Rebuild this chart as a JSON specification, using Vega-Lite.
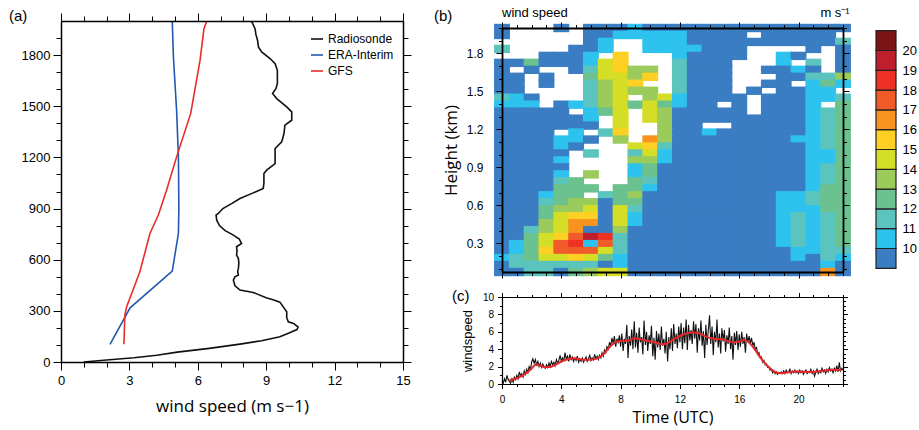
{
  "$schema": "https://vega.github.io/schema/vega-lite/v6.json",
  "background": "white",
  "padding": {"left": 9, "top": 6, "right": 0, "bottom": 4},
  "spacing": 33,
  "bounds": "flush",
  "config": {
    "view": {"stroke": null},
    "font": "Liberation Sans",
    "axis": {"domainColor": "#000", "tickColor": "#000", "labelColor": "#000", "titleColor": "#000", "tickWidth": 1, "labelFont": "Liberation Sans", "titleFont": "Open Sans", "titleFontWeight": "normal", "labelFlush": false, "labelOverlap": false, "grid": false}
  },
  "datasets": {
    "profiles": [
      {"src":"Radiosonde","ws":1.0,"z":0},{"src":"Radiosonde","ws":2.0,"z":12},{"src":"Radiosonde","ws":3.2,"z":25},{"src":"Radiosonde","ws":4.2,"z":40},{"src":"Radiosonde","ws":5.1,"z":58},{"src":"Radiosonde","ws":6.5,"z":80},{"src":"Radiosonde","ws":7.85,"z":105},{"src":"Radiosonde","ws":8.8,"z":125},{"src":"Radiosonde","ws":9.6,"z":148},{"src":"Radiosonde","ws":10.0,"z":170},{"src":"Radiosonde","ws":10.35,"z":190},{"src":"Radiosonde","ws":10.4,"z":205},{"src":"Radiosonde","ws":10.2,"z":226},{"src":"Radiosonde","ws":9.97,"z":236},{"src":"Radiosonde","ws":9.9,"z":260},{"src":"Radiosonde","ws":9.9,"z":295},{"src":"Radiosonde","ws":9.6,"z":351},{"src":"Radiosonde","ws":9.3,"z":365},{"src":"Radiosonde","ws":9.0,"z":377},{"src":"Radiosonde","ws":8.43,"z":408},{"src":"Radiosonde","ws":7.85,"z":422},{"src":"Radiosonde","ws":7.63,"z":447},{"src":"Radiosonde","ws":7.56,"z":480},{"src":"Radiosonde","ws":7.63,"z":500},{"src":"Radiosonde","ws":7.78,"z":510},{"src":"Radiosonde","ws":7.75,"z":530},{"src":"Radiosonde","ws":7.78,"z":549},{"src":"Radiosonde","ws":7.8,"z":580},{"src":"Radiosonde","ws":7.78,"z":608},{"src":"Radiosonde","ws":7.7,"z":627},{"src":"Radiosonde","ws":7.72,"z":650},{"src":"Radiosonde","ws":7.7,"z":676},{"src":"Radiosonde","ws":7.92,"z":695},{"src":"Radiosonde","ws":7.82,"z":721},{"src":"Radiosonde","ws":7.56,"z":744},{"src":"Radiosonde","ws":7.2,"z":770},{"src":"Radiosonde","ws":6.95,"z":800},{"src":"Radiosonde","ws":6.83,"z":832},{"src":"Radiosonde","ws":6.8,"z":861},{"src":"Radiosonde","ws":6.9,"z":871},{"src":"Radiosonde","ws":7.1,"z":900},{"src":"Radiosonde","ws":7.5,"z":930},{"src":"Radiosonde","ws":7.85,"z":959},{"src":"Radiosonde","ws":8.43,"z":992},{"src":"Radiosonde","ws":8.87,"z":1018},{"src":"Radiosonde","ws":8.9,"z":1050},{"src":"Radiosonde","ws":8.9,"z":1106},{"src":"Radiosonde","ws":9.02,"z":1125},{"src":"Radiosonde","ws":9.39,"z":1164},{"src":"Radiosonde","ws":9.39,"z":1200},{"src":"Radiosonde","ws":9.39,"z":1252},{"src":"Radiosonde","ws":9.68,"z":1291},{"src":"Radiosonde","ws":9.78,"z":1340},{"src":"Radiosonde","ws":9.82,"z":1389},{"src":"Radiosonde","ws":10.12,"z":1418},{"src":"Radiosonde","ws":10.12,"z":1467},{"src":"Radiosonde","ws":9.9,"z":1496},{"src":"Radiosonde","ws":9.46,"z":1545},{"src":"Radiosonde","ws":9.28,"z":1575},{"src":"Radiosonde","ws":9.43,"z":1604},{"src":"Radiosonde","ws":9.49,"z":1633},{"src":"Radiosonde","ws":9.49,"z":1680},{"src":"Radiosonde","ws":9.49,"z":1711},{"src":"Radiosonde","ws":9.39,"z":1750},{"src":"Radiosonde","ws":9.17,"z":1780},{"src":"Radiosonde","ws":8.8,"z":1819},{"src":"Radiosonde","ws":8.66,"z":1848},{"src":"Radiosonde","ws":8.62,"z":1887},{"src":"Radiosonde","ws":8.55,"z":1920},{"src":"Radiosonde","ws":8.51,"z":1955},{"src":"Radiosonde","ws":8.36,"z":1998},
      {"src":"ERA-Interim","ws":2.15,"z":104},{"src":"ERA-Interim","ws":3.03,"z":318},{"src":"ERA-Interim","ws":4.88,"z":533},{"src":"ERA-Interim","ws":5.15,"z":754},{"src":"ERA-Interim","ws":5.17,"z":902},{"src":"ERA-Interim","ws":5.15,"z":1203},{"src":"ERA-Interim","ws":5.07,"z":1477},{"src":"ERA-Interim","ws":4.93,"z":1790},{"src":"ERA-Interim","ws":4.88,"z":1999},
      {"src":"GFS","ws":2.76,"z":104},{"src":"GFS","ws":2.8,"z":275},{"src":"GFS","ws":2.88,"z":324},{"src":"GFS","ws":3.46,"z":529},{"src":"GFS","ws":3.9,"z":754},{"src":"GFS","ws":4.27,"z":862},{"src":"GFS","ws":4.63,"z":1008},{"src":"GFS","ws":5.07,"z":1203},{"src":"GFS","ws":5.69,"z":1458},{"src":"GFS","ws":6.1,"z":1770},{"src":"GFS","ws":6.27,"z":1955},{"src":"GFS","ws":6.39,"z":1999}
    ],
    "cells": [
      {"t":0,"h":2,"v":9},{"t":4,"h":2,"v":9},{"t":6,"h":2,"v":9},{"t":7,"h":2,"v":9},{"t":8,"h":2,"v":9},{"t":9,"h":2,"v":10.5},{"t":10,"h":2,"v":9},{"t":11,"h":2,"v":9},{"t":12,"h":2,"v":9},{"t":13,"h":2,"v":9},{"t":14,"h":2,"v":9},{"t":15,"h":2,"v":9},{"t":16,"h":2,"v":9},{"t":17,"h":2,"v":9},{"t":18,"h":2,"v":9},{"t":19,"h":2,"v":9},{"t":20,"h":2,"v":9},{"t":21,"h":2,"v":9},{"t":22,"h":2,"v":9},{"t":23,"h":2,"v":9},
      {"t":0,"h":1.945,"v":9},{"t":6,"h":1.945,"v":9},{"t":7,"h":1.945,"v":9},{"t":8,"h":1.945,"v":10.5},{"t":9,"h":1.945,"v":10.5},{"t":10,"h":1.945,"v":10.5},{"t":11,"h":1.945,"v":10.5},{"t":12,"h":1.945,"v":10.5},{"t":13,"h":1.945,"v":9},{"t":14,"h":1.945,"v":9},{"t":15,"h":1.945,"v":9},{"t":16,"h":1.945,"v":9},{"t":18,"h":1.945,"v":9},{"t":19,"h":1.945,"v":9},{"t":20,"h":1.945,"v":9},{"t":21,"h":1.945,"v":9},{"t":22,"h":1.945,"v":9},
      {"t":6,"h":1.89,"v":9},{"t":7,"h":1.89,"v":10.5},{"t":10,"h":1.89,"v":10.5},{"t":11,"h":1.89,"v":10.5},{"t":12,"h":1.89,"v":10.5},{"t":13,"h":1.89,"v":9},{"t":14,"h":1.89,"v":9},{"t":15,"h":1.89,"v":9},{"t":16,"h":1.89,"v":9},{"t":17,"h":1.89,"v":9},{"t":18,"h":1.89,"v":9},{"t":19,"h":1.89,"v":9},{"t":20,"h":1.89,"v":9},{"t":21,"h":1.89,"v":9},{"t":22,"h":1.89,"v":9},{"t":23,"h":1.89,"v":11.5},
      {"t":0,"h":1.835,"v":11.5},{"t":5,"h":1.835,"v":9},{"t":6,"h":1.835,"v":9},{"t":7,"h":1.835,"v":10.5},{"t":10,"h":1.835,"v":10.5},{"t":11,"h":1.835,"v":10.5},{"t":12,"h":1.835,"v":10.5},{"t":13,"h":1.835,"v":10.5},{"t":14,"h":1.835,"v":9},{"t":15,"h":1.835,"v":9},{"t":16,"h":1.835,"v":9},{"t":21,"h":1.835,"v":9},{"t":23,"h":1.835,"v":9},
      {"t":3,"h":1.78,"v":9},{"t":4,"h":1.78,"v":9},{"t":5,"h":1.78,"v":9},{"t":6,"h":1.78,"v":10.5},{"t":8,"h":1.78,"v":15.5},{"t":12,"h":1.78,"v":10.5},{"t":13,"h":1.78,"v":9},{"t":14,"h":1.78,"v":9},{"t":15,"h":1.78,"v":9},{"t":16,"h":1.78,"v":9},{"t":19,"h":1.78,"v":10.5},{"t":20,"h":1.78,"v":9},{"t":23,"h":1.78,"v":9},
      {"t":0,"h":1.725,"v":9},{"t":1,"h":1.725,"v":9},{"t":2,"h":1.725,"v":12.5},{"t":3,"h":1.725,"v":9},{"t":4,"h":1.725,"v":9},{"t":5,"h":1.725,"v":9},{"t":6,"h":1.725,"v":10.5},{"t":7,"h":1.725,"v":14.5},{"t":8,"h":1.725,"v":15.5},{"t":12,"h":1.725,"v":11.5},{"t":13,"h":1.725,"v":9},{"t":14,"h":1.725,"v":9},{"t":15,"h":1.725,"v":9},{"t":19,"h":1.725,"v":10.5},{"t":21,"h":1.725,"v":11.5},{"t":23,"h":1.725,"v":9},
      {"t":0,"h":1.67,"v":9},{"t":2,"h":1.67,"v":9},{"t":5,"h":1.67,"v":9},{"t":6,"h":1.67,"v":11.5},{"t":7,"h":1.67,"v":14.5},{"t":8,"h":1.67,"v":15.5},{"t":9,"h":1.67,"v":13.5},{"t":10,"h":1.67,"v":13.5},{"t":12,"h":1.67,"v":11.5},{"t":13,"h":1.67,"v":9},{"t":14,"h":1.67,"v":9},{"t":15,"h":1.67,"v":9},{"t":18,"h":1.67,"v":9},{"t":19,"h":1.67,"v":9},{"t":20,"h":1.67,"v":10.5},{"t":21,"h":1.67,"v":9},{"t":23,"h":1.67,"v":9},
      {"t":0,"h":1.615,"v":9},{"t":1,"h":1.615,"v":9},{"t":3,"h":1.615,"v":9},{"t":6,"h":1.615,"v":12.5},{"t":7,"h":1.615,"v":14.5},{"t":8,"h":1.615,"v":14.5},{"t":9,"h":1.615,"v":13.5},{"t":10,"h":1.615,"v":15.5},{"t":12,"h":1.615,"v":11.5},{"t":13,"h":1.615,"v":9},{"t":14,"h":1.615,"v":9},{"t":15,"h":1.615,"v":9},{"t":19,"h":1.615,"v":9},{"t":20,"h":1.615,"v":9},{"t":21,"h":1.615,"v":11.5},{"t":22,"h":1.615,"v":11.5},{"t":23,"h":1.615,"v":13.5},
      {"t":0,"h":1.56,"v":9},{"t":1,"h":1.56,"v":9},{"t":3,"h":1.56,"v":9},{"t":6,"h":1.56,"v":11.5},{"t":7,"h":1.56,"v":13.5},{"t":8,"h":1.56,"v":14.5},{"t":9,"h":1.56,"v":15.5},{"t":12,"h":1.56,"v":11.5},{"t":13,"h":1.56,"v":9},{"t":14,"h":1.56,"v":9},{"t":15,"h":1.56,"v":9},{"t":18,"h":1.56,"v":9},{"t":19,"h":1.56,"v":9},{"t":21,"h":1.56,"v":10.5},{"t":22,"h":1.56,"v":12.5},{"t":23,"h":1.56,"v":10.5},
      {"t":0,"h":1.505,"v":9},{"t":1,"h":1.505,"v":9},{"t":6,"h":1.505,"v":11.5},{"t":7,"h":1.505,"v":13.5},{"t":8,"h":1.505,"v":14.5},{"t":9,"h":1.505,"v":13.5},{"t":10,"h":1.505,"v":13.5},{"t":12,"h":1.505,"v":11.5},{"t":13,"h":1.505,"v":9},{"t":14,"h":1.505,"v":9},{"t":15,"h":1.505,"v":9},{"t":17,"h":1.505,"v":9},{"t":19,"h":1.505,"v":9},{"t":20,"h":1.505,"v":9},{"t":21,"h":1.505,"v":10.5},{"t":22,"h":1.505,"v":10.5},
      {"t":0,"h":1.45,"v":11.5},{"t":1,"h":1.45,"v":10.5},{"t":2,"h":1.45,"v":9},{"t":6,"h":1.45,"v":11.5},{"t":7,"h":1.45,"v":13.5},{"t":8,"h":1.45,"v":14.5},{"t":10,"h":1.45,"v":13.5},{"t":11,"h":1.45,"v":14.5},{"t":12,"h":1.45,"v":10.5},{"t":13,"h":1.45,"v":9},{"t":14,"h":1.45,"v":9},{"t":15,"h":1.45,"v":9},{"t":16,"h":1.45,"v":9},{"t":18,"h":1.45,"v":9},{"t":19,"h":1.45,"v":9},{"t":20,"h":1.45,"v":9},{"t":21,"h":1.45,"v":10.5},{"t":22,"h":1.45,"v":10.5},{"t":23,"h":1.45,"v":11.5},
      {"t":0,"h":1.395,"v":10.5},{"t":1,"h":1.395,"v":10.5},{"t":2,"h":1.395,"v":10.5},{"t":4,"h":1.395,"v":9},{"t":5,"h":1.395,"v":10.5},{"t":6,"h":1.395,"v":11.5},{"t":7,"h":1.395,"v":13.5},{"t":8,"h":1.395,"v":14.5},{"t":9,"h":1.395,"v":12.5},{"t":10,"h":1.395,"v":14.5},{"t":11,"h":1.395,"v":12.5},{"t":12,"h":1.395,"v":10.5},{"t":13,"h":1.395,"v":9},{"t":14,"h":1.395,"v":9},{"t":16,"h":1.395,"v":9},{"t":18,"h":1.395,"v":9},{"t":19,"h":1.395,"v":9},{"t":20,"h":1.395,"v":9},{"t":21,"h":1.395,"v":10.5},{"t":23,"h":1.395,"v":12.5},
      {"t":0,"h":1.34,"v":9},{"t":1,"h":1.34,"v":9},{"t":2,"h":1.34,"v":9},{"t":3,"h":1.34,"v":9},{"t":4,"h":1.34,"v":9},{"t":6,"h":1.34,"v":10.5},{"t":7,"h":1.34,"v":12.5},{"t":8,"h":1.34,"v":14.5},{"t":10,"h":1.34,"v":14.5},{"t":11,"h":1.34,"v":13.5},{"t":12,"h":1.34,"v":9},{"t":13,"h":1.34,"v":9},{"t":14,"h":1.34,"v":9},{"t":15,"h":1.34,"v":9},{"t":16,"h":1.34,"v":9},{"t":18,"h":1.34,"v":9},{"t":19,"h":1.34,"v":9},{"t":20,"h":1.34,"v":9},{"t":21,"h":1.34,"v":10.5},{"t":22,"h":1.34,"v":11.5},{"t":23,"h":1.34,"v":12.5},
      {"t":0,"h":1.285,"v":9},{"t":1,"h":1.285,"v":9},{"t":2,"h":1.285,"v":9},{"t":3,"h":1.285,"v":9},{"t":4,"h":1.285,"v":9},{"t":5,"h":1.285,"v":9},{"t":6,"h":1.285,"v":10.5},{"t":8,"h":1.285,"v":14.5},{"t":10,"h":1.285,"v":14.5},{"t":11,"h":1.285,"v":13.5},{"t":12,"h":1.285,"v":9},{"t":13,"h":1.285,"v":9},{"t":14,"h":1.285,"v":9},{"t":15,"h":1.285,"v":9},{"t":16,"h":1.285,"v":9},{"t":17,"h":1.285,"v":9},{"t":18,"h":1.285,"v":9},{"t":19,"h":1.285,"v":9},{"t":20,"h":1.285,"v":9},{"t":21,"h":1.285,"v":10.5},{"t":22,"h":1.285,"v":11.5},{"t":23,"h":1.285,"v":12.5},
      {"t":0,"h":1.23,"v":9},{"t":1,"h":1.23,"v":9},{"t":2,"h":1.23,"v":9},{"t":3,"h":1.23,"v":9},{"t":4,"h":1.23,"v":9},{"t":5,"h":1.23,"v":9},{"t":6,"h":1.23,"v":9},{"t":8,"h":1.23,"v":14.5},{"t":11,"h":1.23,"v":13.5},{"t":12,"h":1.23,"v":9},{"t":13,"h":1.23,"v":9},{"t":16,"h":1.23,"v":9},{"t":17,"h":1.23,"v":9},{"t":18,"h":1.23,"v":9},{"t":19,"h":1.23,"v":9},{"t":20,"h":1.23,"v":9},{"t":21,"h":1.23,"v":10.5},{"t":22,"h":1.23,"v":11.5},{"t":23,"h":1.23,"v":12.5},
      {"t":0,"h":1.175,"v":9},{"t":1,"h":1.175,"v":9},{"t":2,"h":1.175,"v":9},{"t":3,"h":1.175,"v":9},{"t":5,"h":1.175,"v":10.5},{"t":7,"h":1.175,"v":11.5},{"t":8,"h":1.175,"v":15.5},{"t":11,"h":1.175,"v":13.5},{"t":12,"h":1.175,"v":9},{"t":13,"h":1.175,"v":9},{"t":14,"h":1.175,"v":10.5},{"t":15,"h":1.175,"v":9},{"t":16,"h":1.175,"v":9},{"t":17,"h":1.175,"v":9},{"t":18,"h":1.175,"v":9},{"t":19,"h":1.175,"v":9},{"t":20,"h":1.175,"v":9},{"t":21,"h":1.175,"v":10.5},{"t":22,"h":1.175,"v":11.5},{"t":23,"h":1.175,"v":12.5},
      {"t":0,"h":1.12,"v":9},{"t":1,"h":1.12,"v":9},{"t":2,"h":1.12,"v":9},{"t":3,"h":1.12,"v":9},{"t":4,"h":1.12,"v":10.5},{"t":5,"h":1.12,"v":10.5},{"t":6,"h":1.12,"v":9},{"t":8,"h":1.12,"v":13.5},{"t":10,"h":1.12,"v":16.5},{"t":11,"h":1.12,"v":13.5},{"t":12,"h":1.12,"v":9},{"t":13,"h":1.12,"v":9},{"t":14,"h":1.12,"v":9},{"t":15,"h":1.12,"v":9},{"t":16,"h":1.12,"v":9},{"t":17,"h":1.12,"v":9},{"t":18,"h":1.12,"v":9},{"t":19,"h":1.12,"v":9},{"t":20,"h":1.12,"v":10.5},{"t":21,"h":1.12,"v":10.5},{"t":22,"h":1.12,"v":11.5},{"t":23,"h":1.12,"v":12.5},
      {"t":0,"h":1.065,"v":9},{"t":1,"h":1.065,"v":9},{"t":2,"h":1.065,"v":9},{"t":3,"h":1.065,"v":9},{"t":4,"h":1.065,"v":10.5},{"t":5,"h":1.065,"v":9},{"t":9,"h":1.065,"v":14.5},{"t":10,"h":1.065,"v":15.5},{"t":11,"h":1.065,"v":11.5},{"t":12,"h":1.065,"v":9},{"t":13,"h":1.065,"v":9},{"t":14,"h":1.065,"v":9},{"t":15,"h":1.065,"v":9},{"t":16,"h":1.065,"v":9},{"t":17,"h":1.065,"v":9},{"t":18,"h":1.065,"v":9},{"t":19,"h":1.065,"v":9},{"t":20,"h":1.065,"v":9},{"t":21,"h":1.065,"v":10.5},{"t":22,"h":1.065,"v":11.5},{"t":23,"h":1.065,"v":12.5},
      {"t":0,"h":1.01,"v":9},{"t":1,"h":1.01,"v":9},{"t":2,"h":1.01,"v":9},{"t":3,"h":1.01,"v":9},{"t":4,"h":1.01,"v":9},{"t":6,"h":1.01,"v":11.5},{"t":9,"h":1.01,"v":11.5},{"t":10,"h":1.01,"v":14.5},{"t":11,"h":1.01,"v":10.5},{"t":12,"h":1.01,"v":9},{"t":13,"h":1.01,"v":9},{"t":14,"h":1.01,"v":9},{"t":15,"h":1.01,"v":9},{"t":16,"h":1.01,"v":9},{"t":17,"h":1.01,"v":9},{"t":18,"h":1.01,"v":9},{"t":19,"h":1.01,"v":9},{"t":20,"h":1.01,"v":9},{"t":21,"h":1.01,"v":10.5},{"t":22,"h":1.01,"v":10.5},{"t":23,"h":1.01,"v":12.5},
      {"t":0,"h":0.955,"v":9},{"t":1,"h":0.955,"v":9},{"t":2,"h":0.955,"v":9},{"t":3,"h":0.955,"v":9},{"t":4,"h":0.955,"v":10.5},{"t":9,"h":0.955,"v":13.5},{"t":10,"h":0.955,"v":13.5},{"t":11,"h":0.955,"v":10.5},{"t":12,"h":0.955,"v":9},{"t":13,"h":0.955,"v":9},{"t":14,"h":0.955,"v":9},{"t":15,"h":0.955,"v":9},{"t":16,"h":0.955,"v":9},{"t":17,"h":0.955,"v":9},{"t":18,"h":0.955,"v":9},{"t":19,"h":0.955,"v":9},{"t":20,"h":0.955,"v":9},{"t":21,"h":0.955,"v":10.5},{"t":22,"h":0.955,"v":10.5},{"t":23,"h":0.955,"v":12.5},
      {"t":0,"h":0.9,"v":9},{"t":1,"h":0.9,"v":9},{"t":2,"h":0.9,"v":9},{"t":3,"h":0.9,"v":9},{"t":4,"h":0.9,"v":9},{"t":9,"h":0.9,"v":10.5},{"t":10,"h":0.9,"v":12.5},{"t":11,"h":0.9,"v":9},{"t":12,"h":0.9,"v":9},{"t":13,"h":0.9,"v":9},{"t":14,"h":0.9,"v":9},{"t":15,"h":0.9,"v":9},{"t":16,"h":0.9,"v":9},{"t":17,"h":0.9,"v":9},{"t":18,"h":0.9,"v":9},{"t":19,"h":0.9,"v":9},{"t":20,"h":0.9,"v":9},{"t":21,"h":0.9,"v":10.5},{"t":22,"h":0.9,"v":11.5},{"t":23,"h":0.9,"v":12.5},
      {"t":0,"h":0.845,"v":9},{"t":1,"h":0.845,"v":9},{"t":2,"h":0.845,"v":9},{"t":3,"h":0.845,"v":9},{"t":4,"h":0.845,"v":10.5},{"t":6,"h":0.845,"v":13.5},{"t":9,"h":0.845,"v":10.5},{"t":10,"h":0.845,"v":12.5},{"t":11,"h":0.845,"v":9},{"t":12,"h":0.845,"v":9},{"t":13,"h":0.845,"v":9},{"t":14,"h":0.845,"v":9},{"t":15,"h":0.845,"v":9},{"t":16,"h":0.845,"v":9},{"t":17,"h":0.845,"v":9},{"t":18,"h":0.845,"v":9},{"t":19,"h":0.845,"v":9},{"t":20,"h":0.845,"v":9},{"t":21,"h":0.845,"v":10.5},{"t":22,"h":0.845,"v":11.5},{"t":23,"h":0.845,"v":12.5},
      {"t":0,"h":0.79,"v":9},{"t":1,"h":0.79,"v":9},{"t":2,"h":0.79,"v":9},{"t":3,"h":0.79,"v":9},{"t":4,"h":0.79,"v":11.5},{"t":5,"h":0.79,"v":12.5},{"t":9,"h":0.79,"v":12.5},{"t":10,"h":0.79,"v":11.5},{"t":11,"h":0.79,"v":9},{"t":12,"h":0.79,"v":9},{"t":13,"h":0.79,"v":9},{"t":14,"h":0.79,"v":9},{"t":15,"h":0.79,"v":9},{"t":16,"h":0.79,"v":9},{"t":17,"h":0.79,"v":9},{"t":18,"h":0.79,"v":9},{"t":19,"h":0.79,"v":9},{"t":20,"h":0.79,"v":9},{"t":21,"h":0.79,"v":10.5},{"t":22,"h":0.79,"v":11.5},{"t":23,"h":0.79,"v":12.5},
      {"t":0,"h":0.735,"v":9},{"t":1,"h":0.735,"v":9},{"t":2,"h":0.735,"v":9},{"t":3,"h":0.735,"v":9},{"t":4,"h":0.735,"v":12.5},{"t":5,"h":0.735,"v":12.5},{"t":6,"h":0.735,"v":12.5},{"t":8,"h":0.735,"v":12.5},{"t":9,"h":0.735,"v":12.5},{"t":10,"h":0.735,"v":10.5},{"t":11,"h":0.735,"v":9},{"t":12,"h":0.735,"v":9},{"t":13,"h":0.735,"v":9},{"t":14,"h":0.735,"v":9},{"t":15,"h":0.735,"v":9},{"t":16,"h":0.735,"v":9},{"t":17,"h":0.735,"v":9},{"t":18,"h":0.735,"v":9},{"t":19,"h":0.735,"v":9},{"t":20,"h":0.735,"v":9},{"t":21,"h":0.735,"v":10.5},{"t":22,"h":0.735,"v":12.5},{"t":23,"h":0.735,"v":12.5},
      {"t":0,"h":0.68,"v":9},{"t":1,"h":0.68,"v":9},{"t":2,"h":0.68,"v":9},{"t":3,"h":0.68,"v":10.5},{"t":4,"h":0.68,"v":12.5},{"t":5,"h":0.68,"v":12.5},{"t":7,"h":0.68,"v":11.5},{"t":8,"h":0.68,"v":12.5},{"t":9,"h":0.68,"v":13.5},{"t":10,"h":0.68,"v":9},{"t":11,"h":0.68,"v":9},{"t":12,"h":0.68,"v":9},{"t":13,"h":0.68,"v":9},{"t":14,"h":0.68,"v":9},{"t":15,"h":0.68,"v":9},{"t":16,"h":0.68,"v":9},{"t":17,"h":0.68,"v":9},{"t":18,"h":0.68,"v":9},{"t":19,"h":0.68,"v":10.5},{"t":20,"h":0.68,"v":10.5},{"t":21,"h":0.68,"v":11.5},{"t":22,"h":0.68,"v":12.5},{"t":23,"h":0.68,"v":12.5},
      {"t":0,"h":0.625,"v":9},{"t":1,"h":0.625,"v":9},{"t":2,"h":0.625,"v":9},{"t":3,"h":0.625,"v":11.5},{"t":4,"h":0.625,"v":12.5},{"t":5,"h":0.625,"v":13.5},{"t":6,"h":0.625,"v":13.5},{"t":7,"h":0.625,"v":9},{"t":8,"h":0.625,"v":12.5},{"t":9,"h":0.625,"v":12.5},{"t":10,"h":0.625,"v":9},{"t":11,"h":0.625,"v":9},{"t":12,"h":0.625,"v":9},{"t":13,"h":0.625,"v":9},{"t":14,"h":0.625,"v":9},{"t":15,"h":0.625,"v":9},{"t":16,"h":0.625,"v":9},{"t":17,"h":0.625,"v":9},{"t":18,"h":0.625,"v":9},{"t":19,"h":0.625,"v":10.5},{"t":20,"h":0.625,"v":10.5},{"t":21,"h":0.625,"v":11.5},{"t":22,"h":0.625,"v":12.5},{"t":23,"h":0.625,"v":12.5},
      {"t":0,"h":0.57,"v":9},{"t":1,"h":0.57,"v":9},{"t":2,"h":0.57,"v":9},{"t":3,"h":0.57,"v":12.5},{"t":4,"h":0.57,"v":13.5},{"t":5,"h":0.57,"v":13.5},{"t":6,"h":0.57,"v":14.5},{"t":7,"h":0.57,"v":9},{"t":8,"h":0.57,"v":14.5},{"t":9,"h":0.57,"v":11.5},{"t":10,"h":0.57,"v":9},{"t":11,"h":0.57,"v":9},{"t":12,"h":0.57,"v":9},{"t":13,"h":0.57,"v":9},{"t":14,"h":0.57,"v":9},{"t":15,"h":0.57,"v":9},{"t":16,"h":0.57,"v":9},{"t":17,"h":0.57,"v":9},{"t":18,"h":0.57,"v":9},{"t":19,"h":0.57,"v":10.5},{"t":20,"h":0.57,"v":10.5},{"t":21,"h":0.57,"v":10.5},{"t":22,"h":0.57,"v":12.5},{"t":23,"h":0.57,"v":12.5},
      {"t":0,"h":0.515,"v":9},{"t":1,"h":0.515,"v":9},{"t":2,"h":0.515,"v":9},{"t":3,"h":0.515,"v":12.5},{"t":4,"h":0.515,"v":14.5},{"t":5,"h":0.515,"v":15.5},{"t":6,"h":0.515,"v":15.5},{"t":7,"h":0.515,"v":9},{"t":8,"h":0.515,"v":14.5},{"t":9,"h":0.515,"v":10.5},{"t":10,"h":0.515,"v":9},{"t":11,"h":0.515,"v":9},{"t":12,"h":0.515,"v":9},{"t":13,"h":0.515,"v":9},{"t":14,"h":0.515,"v":9},{"t":15,"h":0.515,"v":9},{"t":16,"h":0.515,"v":9},{"t":17,"h":0.515,"v":9},{"t":18,"h":0.515,"v":9},{"t":19,"h":0.515,"v":10.5},{"t":20,"h":0.515,"v":11.5},{"t":21,"h":0.515,"v":10.5},{"t":22,"h":0.515,"v":11.5},{"t":23,"h":0.515,"v":12.5},
      {"t":0,"h":0.46,"v":9},{"t":1,"h":0.46,"v":9},{"t":2,"h":0.46,"v":9},{"t":3,"h":0.46,"v":13.5},{"t":4,"h":0.46,"v":14.5},{"t":5,"h":0.46,"v":16.5},{"t":6,"h":0.46,"v":16.5},{"t":7,"h":0.46,"v":9},{"t":8,"h":0.46,"v":14.5},{"t":9,"h":0.46,"v":10.5},{"t":10,"h":0.46,"v":9},{"t":11,"h":0.46,"v":9},{"t":12,"h":0.46,"v":9},{"t":13,"h":0.46,"v":9},{"t":14,"h":0.46,"v":9},{"t":15,"h":0.46,"v":9},{"t":16,"h":0.46,"v":9},{"t":17,"h":0.46,"v":9},{"t":18,"h":0.46,"v":9},{"t":19,"h":0.46,"v":10.5},{"t":20,"h":0.46,"v":11.5},{"t":21,"h":0.46,"v":10.5},{"t":22,"h":0.46,"v":11.5},{"t":23,"h":0.46,"v":12.5},
      {"t":0,"h":0.405,"v":9},{"t":1,"h":0.405,"v":9},{"t":2,"h":0.405,"v":11.5},{"t":3,"h":0.405,"v":13.5},{"t":4,"h":0.405,"v":14.5},{"t":5,"h":0.405,"v":16.5},{"t":6,"h":0.405,"v":9},{"t":7,"h":0.405,"v":9},{"t":8,"h":0.405,"v":13.5},{"t":9,"h":0.405,"v":9},{"t":10,"h":0.405,"v":9},{"t":11,"h":0.405,"v":9},{"t":12,"h":0.405,"v":9},{"t":13,"h":0.405,"v":9},{"t":14,"h":0.405,"v":9},{"t":15,"h":0.405,"v":9},{"t":16,"h":0.405,"v":9},{"t":17,"h":0.405,"v":9},{"t":18,"h":0.405,"v":9},{"t":19,"h":0.405,"v":10.5},{"t":20,"h":0.405,"v":11.5},{"t":21,"h":0.405,"v":10.5},{"t":22,"h":0.405,"v":11.5},{"t":23,"h":0.405,"v":12.5},
      {"t":0,"h":0.35,"v":9},{"t":1,"h":0.35,"v":9},{"t":2,"h":0.35,"v":12.5},{"t":3,"h":0.35,"v":14.5},{"t":4,"h":0.35,"v":15.5},{"t":5,"h":0.35,"v":17.5},{"t":6,"h":0.35,"v":19.5},{"t":7,"h":0.35,"v":18.5},{"t":8,"h":0.35,"v":11.5},{"t":9,"h":0.35,"v":9},{"t":10,"h":0.35,"v":9},{"t":11,"h":0.35,"v":9},{"t":12,"h":0.35,"v":9},{"t":13,"h":0.35,"v":9},{"t":14,"h":0.35,"v":9},{"t":15,"h":0.35,"v":9},{"t":16,"h":0.35,"v":9},{"t":17,"h":0.35,"v":9},{"t":18,"h":0.35,"v":9},{"t":19,"h":0.35,"v":10.5},{"t":20,"h":0.35,"v":11.5},{"t":21,"h":0.35,"v":10.5},{"t":22,"h":0.35,"v":11.5},{"t":23,"h":0.35,"v":12.5},
      {"t":0,"h":0.295,"v":9},{"t":1,"h":0.295,"v":10.5},{"t":2,"h":0.295,"v":12.5},{"t":3,"h":0.295,"v":14.5},{"t":4,"h":0.295,"v":17.5},{"t":5,"h":0.295,"v":18.5},{"t":6,"h":0.295,"v":10.5},{"t":7,"h":0.295,"v":17.5},{"t":8,"h":0.295,"v":11.5},{"t":9,"h":0.295,"v":9},{"t":10,"h":0.295,"v":9},{"t":11,"h":0.295,"v":9},{"t":12,"h":0.295,"v":9},{"t":13,"h":0.295,"v":9},{"t":14,"h":0.295,"v":9},{"t":15,"h":0.295,"v":9},{"t":16,"h":0.295,"v":9},{"t":17,"h":0.295,"v":9},{"t":18,"h":0.295,"v":9},{"t":19,"h":0.295,"v":10.5},{"t":20,"h":0.295,"v":11.5},{"t":21,"h":0.295,"v":10.5},{"t":22,"h":0.295,"v":11.5},{"t":23,"h":0.295,"v":12.5},
      {"t":0,"h":0.24,"v":9},{"t":1,"h":0.24,"v":10.5},{"t":2,"h":0.24,"v":12.5},{"t":3,"h":0.24,"v":15.5},{"t":4,"h":0.24,"v":17.5},{"t":5,"h":0.24,"v":17.5},{"t":6,"h":0.24,"v":17.5},{"t":7,"h":0.24,"v":14.5},{"t":8,"h":0.24,"v":11.5},{"t":9,"h":0.24,"v":9},{"t":10,"h":0.24,"v":9},{"t":11,"h":0.24,"v":9},{"t":12,"h":0.24,"v":9},{"t":13,"h":0.24,"v":9},{"t":14,"h":0.24,"v":9},{"t":15,"h":0.24,"v":9},{"t":16,"h":0.24,"v":9},{"t":17,"h":0.24,"v":9},{"t":18,"h":0.24,"v":9},{"t":19,"h":0.24,"v":9},{"t":20,"h":0.24,"v":10.5},{"t":21,"h":0.24,"v":10.5},{"t":22,"h":0.24,"v":11.5},{"t":23,"h":0.24,"v":11.5},
      {"t":0,"h":0.185,"v":10.5},{"t":1,"h":0.185,"v":11.5},{"t":2,"h":0.185,"v":12.5},{"t":3,"h":0.185,"v":14.5},{"t":4,"h":0.185,"v":14.5},{"t":5,"h":0.185,"v":15.5},{"t":6,"h":0.185,"v":14.5},{"t":7,"h":0.185,"v":12.5},{"t":8,"h":0.185,"v":10.5},{"t":9,"h":0.185,"v":9},{"t":10,"h":0.185,"v":9},{"t":11,"h":0.185,"v":9},{"t":12,"h":0.185,"v":9},{"t":13,"h":0.185,"v":9},{"t":14,"h":0.185,"v":9},{"t":15,"h":0.185,"v":9},{"t":16,"h":0.185,"v":9},{"t":17,"h":0.185,"v":9},{"t":18,"h":0.185,"v":9},{"t":19,"h":0.185,"v":9},{"t":20,"h":0.185,"v":10.5},{"t":21,"h":0.185,"v":9},{"t":22,"h":0.185,"v":11.5},{"t":23,"h":0.185,"v":10.5},
      {"t":0,"h":0.13,"v":9},{"t":1,"h":0.13,"v":11.5},{"t":2,"h":0.13,"v":11.5},{"t":3,"h":0.13,"v":11.5},{"t":4,"h":0.13,"v":11.5},{"t":5,"h":0.13,"v":11.5},{"t":6,"h":0.13,"v":11.5},{"t":7,"h":0.13,"v":9},{"t":8,"h":0.13,"v":10.5},{"t":9,"h":0.13,"v":9},{"t":10,"h":0.13,"v":9},{"t":11,"h":0.13,"v":9},{"t":12,"h":0.13,"v":9},{"t":13,"h":0.13,"v":9},{"t":14,"h":0.13,"v":9},{"t":15,"h":0.13,"v":9},{"t":16,"h":0.13,"v":9},{"t":17,"h":0.13,"v":9},{"t":18,"h":0.13,"v":9},{"t":19,"h":0.13,"v":9},{"t":20,"h":0.13,"v":9},{"t":21,"h":0.13,"v":9},{"t":22,"h":0.13,"v":10.5},{"t":23,"h":0.13,"v":9},
      {"t":0,"h":0.075,"v":9},{"t":1,"h":0.075,"v":9},{"t":2,"h":0.075,"v":11.5},{"t":3,"h":0.075,"v":11.5},{"t":4,"h":0.075,"v":9},{"t":5,"h":0.075,"v":12.5},{"t":6,"h":0.075,"v":13.5},{"t":7,"h":0.075,"v":14.5},{"t":8,"h":0.075,"v":14.5},{"t":9,"h":0.075,"v":9},{"t":10,"h":0.075,"v":9},{"t":11,"h":0.075,"v":9},{"t":12,"h":0.075,"v":9},{"t":13,"h":0.075,"v":9},{"t":14,"h":0.075,"v":9},{"t":15,"h":0.075,"v":9},{"t":16,"h":0.075,"v":9},{"t":17,"h":0.075,"v":9},{"t":18,"h":0.075,"v":9},{"t":19,"h":0.075,"v":9},{"t":20,"h":0.075,"v":9},{"t":21,"h":0.075,"v":9},{"t":22,"h":0.075,"v":16.5},{"t":23,"h":0.075,"v":9}
    ],
    "obs": [
      {"t":0,"ws":0.3},{"t":0.08,"ws":0.1},{"t":0.17,"ws":0.6},{"t":0.25,"ws":0.2},{"t":0.33,"ws":1.0},{"t":0.42,"ws":0.5},{"t":0.5,"ws":0.3},{"t":0.58,"ws":0.1},{"t":0.67,"ws":0.6},{"t":0.75,"ws":0.2},{"t":0.83,"ws":0.8},{"t":0.92,"ws":0.5},
      {"t":1,"ws":1.0},{"t":1.08,"ws":0.6},{"t":1.17,"ws":1.4},{"t":1.25,"ws":0.9},{"t":1.33,"ws":1.2},{"t":1.42,"ws":0.8},{"t":1.5,"ws":1.5},{"t":1.58,"ws":1.1},{"t":1.67,"ws":1.7},{"t":1.75,"ws":1.3},{"t":1.83,"ws":2.0},{"t":1.92,"ws":1.7},
      {"t":2,"ws":2.5},{"t":2.08,"ws":2.9},{"t":2.17,"ws":2.4},{"t":2.25,"ws":2.8},{"t":2.33,"ws":2.2},{"t":2.42,"ws":2.6},{"t":2.5,"ws":2.0},{"t":2.58,"ws":2.4},{"t":2.67,"ws":1.9},{"t":2.75,"ws":2.3},{"t":2.83,"ws":2.0},{"t":2.92,"ws":1.8},
      {"t":3,"ws":2.2},{"t":3.08,"ws":1.9},{"t":3.17,"ws":2.4},{"t":3.25,"ws":2.0},{"t":3.33,"ws":2.6},{"t":3.42,"ws":2.2},{"t":3.5,"ws":2.5},{"t":3.58,"ws":2.1},{"t":3.67,"ws":2.8},{"t":3.75,"ws":2.4},{"t":3.83,"ws":2.7},{"t":3.92,"ws":3.3},
      {"t":4,"ws":2.6},{"t":4.08,"ws":3.0},{"t":4.17,"ws":2.7},{"t":4.25,"ws":3.6},{"t":4.33,"ws":2.9},{"t":4.42,"ws":3.2},{"t":4.5,"ws":2.6},{"t":4.58,"ws":3.4},{"t":4.67,"ws":2.8},{"t":4.75,"ws":3.1},{"t":4.83,"ws":2.6},{"t":4.92,"ws":3.0},
      {"t":5,"ws":2.7},{"t":5.08,"ws":3.2},{"t":5.17,"ws":2.5},{"t":5.25,"ws":2.9},{"t":5.33,"ws":2.6},{"t":5.42,"ws":3.0},{"t":5.5,"ws":2.5},{"t":5.58,"ws":2.8},{"t":5.67,"ws":3.1},{"t":5.75,"ws":2.6},{"t":5.83,"ws":2.9},{"t":5.92,"ws":3.3},
      {"t":6,"ws":2.7},{"t":6.08,"ws":3.0},{"t":6.17,"ws":2.8},{"t":6.25,"ws":3.4},{"t":6.33,"ws":2.9},{"t":6.42,"ws":3.2},{"t":6.5,"ws":2.8},{"t":6.58,"ws":3.3},{"t":6.67,"ws":3.0},{"t":6.75,"ws":3.6},{"t":6.83,"ws":3.2},{"t":6.92,"ws":3.9},
      {"t":7,"ws":3.6},{"t":7.08,"ws":4.3},{"t":7.17,"ws":4.0},{"t":7.25,"ws":4.8},{"t":7.33,"ws":4.4},{"t":7.42,"ws":5.3},{"t":7.5,"ws":4.6},{"t":7.58,"ws":5.5},{"t":7.67,"ws":4.3},{"t":7.75,"ws":5.2},{"t":7.83,"ws":4.8},{"t":7.92,"ws":5.6},
      {"t":8,"ws":4.3},{"t":8.08,"ws":5.8},{"t":8.17,"ws":3.8},{"t":8.25,"ws":5.2},{"t":8.33,"ws":4.6},{"t":8.42,"ws":6.8},{"t":8.5,"ws":3.0},{"t":8.58,"ws":5.5},{"t":8.67,"ws":4.4},{"t":8.75,"ws":6.3},{"t":8.83,"ws":4.0},{"t":8.92,"ws":7.2},
      {"t":9,"ws":4.2},{"t":9.08,"ws":5.9},{"t":9.17,"ws":3.6},{"t":9.25,"ws":6.5},{"t":9.33,"ws":4.8},{"t":9.42,"ws":5.4},{"t":9.5,"ws":3.4},{"t":9.58,"ws":7.3},{"t":9.67,"ws":4.5},{"t":9.75,"ws":6.0},{"t":9.83,"ws":3.8},{"t":9.92,"ws":5.6},
      {"t":10,"ws":4.6},{"t":10.08,"ws":6.7},{"t":10.17,"ws":3.2},{"t":10.25,"ws":5.3},{"t":10.33,"ws":2.8},{"t":10.42,"ws":6.1},{"t":10.5,"ws":4.2},{"t":10.58,"ws":5.8},{"t":10.67,"ws":3.9},{"t":10.75,"ws":6.6},{"t":10.83,"ws":4.4},{"t":10.92,"ws":5.2},
      {"t":11,"ws":3.5},{"t":11.08,"ws":6.0},{"t":11.17,"ws":2.6},{"t":11.25,"ws":5.4},{"t":11.33,"ws":4.0},{"t":11.42,"ws":6.4},{"t":11.5,"ws":3.8},{"t":11.58,"ws":6.9},{"t":11.67,"ws":4.6},{"t":11.75,"ws":5.8},{"t":11.83,"ws":4.1},{"t":11.92,"ws":6.6},
      {"t":12,"ws":4.8},{"t":12.08,"ws":7.0},{"t":12.17,"ws":4.0},{"t":12.25,"ws":6.5},{"t":12.33,"ws":4.7},{"t":12.42,"ws":7.4},{"t":12.5,"ws":3.9},{"t":12.58,"ws":6.8},{"t":12.67,"ws":5.0},{"t":12.75,"ws":6.2},{"t":12.83,"ws":4.6},{"t":12.92,"ws":7.2},
      {"t":13,"ws":5.2},{"t":13.08,"ws":6.9},{"t":13.17,"ws":3.6},{"t":13.25,"ws":6.4},{"t":13.33,"ws":5.0},{"t":13.42,"ws":7.3},{"t":13.5,"ws":4.4},{"t":13.58,"ws":6.1},{"t":13.67,"ws":3.0},{"t":13.75,"ws":6.8},{"t":13.83,"ws":4.5},{"t":13.92,"ws":6.3},
      {"t":14,"ws":7.9},{"t":14.08,"ws":4.6},{"t":14.17,"ws":6.6},{"t":14.25,"ws":3.3},{"t":14.33,"ws":6.0},{"t":14.42,"ws":4.8},{"t":14.5,"ws":7.4},{"t":14.58,"ws":4.2},{"t":14.67,"ws":5.8},{"t":14.75,"ws":3.5},{"t":14.83,"ws":6.4},{"t":14.92,"ws":4.9},
      {"t":15,"ws":6.2},{"t":15.08,"ws":3.7},{"t":15.17,"ws":5.6},{"t":15.25,"ws":4.6},{"t":15.33,"ws":6.5},{"t":15.42,"ws":4.0},{"t":15.5,"ws":5.5},{"t":15.58,"ws":2.8},{"t":15.67,"ws":5.9},{"t":15.75,"ws":4.5},{"t":15.83,"ws":6.1},{"t":15.92,"ws":3.9},
      {"t":16,"ws":5.7},{"t":16.08,"ws":4.3},{"t":16.17,"ws":6.0},{"t":16.25,"ws":4.6},{"t":16.33,"ws":5.4},{"t":16.42,"ws":3.6},{"t":16.5,"ws":5.8},{"t":16.58,"ws":4.8},{"t":16.67,"ws":5.5},{"t":16.75,"ws":4.6},{"t":16.83,"ws":5.3},{"t":16.92,"ws":4.4},
      {"t":17,"ws":4.8},{"t":17.08,"ws":4.0},{"t":17.17,"ws":4.2},{"t":17.25,"ws":3.4},{"t":17.33,"ws":3.6},{"t":17.42,"ws":3.0},{"t":17.5,"ws":3.1},{"t":17.58,"ws":2.5},{"t":17.67,"ws":2.7},{"t":17.75,"ws":2.2},{"t":17.83,"ws":2.3},{"t":17.92,"ws":1.9},
      {"t":18,"ws":2.0},{"t":18.08,"ws":1.6},{"t":18.17,"ws":1.7},{"t":18.25,"ws":1.3},{"t":18.33,"ws":1.5},{"t":18.42,"ws":1.2},{"t":18.5,"ws":1.4},{"t":18.58,"ws":1.1},{"t":18.67,"ws":1.3},{"t":18.75,"ws":1.2},{"t":18.83,"ws":1.4},{"t":18.92,"ws":1.2},
      {"t":19,"ws":1.5},{"t":19.08,"ws":1.2},{"t":19.17,"ws":1.6},{"t":19.25,"ws":1.3},{"t":19.33,"ws":1.4},{"t":19.42,"ws":1.7},{"t":19.5,"ws":1.2},{"t":19.58,"ws":1.5},{"t":19.67,"ws":1.3},{"t":19.75,"ws":1.6},{"t":19.83,"ws":1.3},{"t":19.92,"ws":1.5},
      {"t":20,"ws":1.2},{"t":20.08,"ws":1.6},{"t":20.17,"ws":1.3},{"t":20.25,"ws":1.5},{"t":20.33,"ws":1.1},{"t":20.42,"ws":1.4},{"t":20.5,"ws":1.6},{"t":20.58,"ws":1.2},{"t":20.67,"ws":1.4},{"t":20.75,"ws":1.3},{"t":20.83,"ws":1.7},{"t":20.92,"ws":1.2},
      {"t":21,"ws":1.5},{"t":21.08,"ws":0.9},{"t":21.17,"ws":1.4},{"t":21.25,"ws":1.7},{"t":21.33,"ws":1.2},{"t":21.42,"ws":1.5},{"t":21.5,"ws":1.3},{"t":21.58,"ws":1.8},{"t":21.67,"ws":1.4},{"t":21.75,"ws":1.6},{"t":21.83,"ws":1.2},{"t":21.92,"ws":1.7},
      {"t":22,"ws":1.4},{"t":22.08,"ws":1.9},{"t":22.17,"ws":1.5},{"t":22.25,"ws":1.7},{"t":22.33,"ws":1.3},{"t":22.42,"ws":1.8},{"t":22.5,"ws":1.5},{"t":22.58,"ws":2.1},{"t":22.67,"ws":1.4},{"t":22.75,"ws":2.5},{"t":22.83,"ws":1.5},{"t":22.92,"ws":1.8},
      {"t":23,"ws":1.6}
    ],
    "smooth": [
      {"t":0.5,"ws":0.45},{"t":1.0,"ws":0.65},{"t":1.5,"ws":1.1},{"t":1.9,"ws":1.6},{"t":2.3,"ws":2.25},{"t":2.6,"ws":2.1},{"t":2.9,"ws":1.95},{"t":3.2,"ws":1.95},{"t":3.6,"ws":2.2},{"t":4.1,"ws":2.65},{"t":4.8,"ws":2.95},{"t":5.2,"ws":2.85},{"t":5.7,"ws":2.78},{"t":6.3,"ws":2.88},{"t":6.8,"ws":3.35},{"t":7.3,"ws":4.3},{"t":7.7,"ws":4.85},{"t":8.0,"ws":4.95},{"t":8.6,"ws":5.0},{"t":8.9,"ws":5.25},{"t":9.4,"ws":5.1},{"t":9.9,"ws":4.95},{"t":10.4,"ws":4.75},{"t":10.8,"ws":4.56},{"t":11.1,"ws":4.65},{"t":11.5,"ws":5.05},{"t":12.1,"ws":5.6},{"t":12.5,"ws":5.85},{"t":12.8,"ws":5.93},{"t":13.2,"ws":5.9},{"t":13.5,"ws":5.65},{"t":13.9,"ws":5.36},{"t":14.3,"ws":5.2},{"t":14.6,"ws":5.13},{"t":14.9,"ws":5.15},{"t":15.3,"ws":4.87},{"t":15.6,"ws":4.8},{"t":15.95,"ws":4.85},{"t":16.4,"ws":5.05},{"t":16.7,"ws":4.7},{"t":17.0,"ws":4.1},{"t":17.3,"ws":3.35},{"t":17.7,"ws":2.45},{"t":18.2,"ws":1.63},{"t":18.5,"ws":1.33},{"t":18.9,"ws":1.25},{"t":19.3,"ws":1.35},{"t":19.75,"ws":1.44},{"t":20.3,"ws":1.42},{"t":20.9,"ws":1.37},{"t":21.5,"ws":1.5},{"t":22.0,"ws":1.58},{"t":22.3,"ws":1.63},{"t":22.9,"ws":1.6}
    ],
    "classes": [
      {"lo":9,"hi":10,"v":9.5},{"lo":10,"hi":11,"v":10.5},{"lo":11,"hi":12,"v":11.5},{"lo":12,"hi":13,"v":12.5},{"lo":13,"hi":14,"v":13.5},{"lo":14,"hi":15,"v":14.5},{"lo":15,"hi":16,"v":15.5},{"lo":16,"hi":17,"v":16.5},{"lo":17,"hi":18,"v":17.5},{"lo":18,"hi":19,"v":18.5},{"lo":19,"hi":20,"v":19.5},{"lo":20,"hi":21,"v":20.5}
    ]
  },
  "hconcat": [
    {
      "width": 408,
      "height": 341,
      "layer": [
        {
          "data": {"name": "profiles"},
          "mark": {"type": "line", "strokeWidth": 1.6},
          "encoding": {
            "x": {"field": "ws", "type": "quantitative", "scale": {"domain": [0, 15], "range": [0, 342], "nice": false, "zero": false},
              "axis": {"orient": "bottom", "values": [0,1,2,3,4,5,6,7,8,9,10,11,12,13,14,15], "format": "d", "labelExpr": "datum.value % 3 === 0 ? datum.label : ''", "tickSize": {"condition": {"test": "datum.value % 3 === 0", "value": 8}, "value": 5}, "labelFontSize": 13, "labelPadding": 4, "domainWidth": 1.5, "title": "wind speed (m s−1)", "titleFontSize": 17, "titlePadding": 11, "zindex": 1}},
            "y": {"field": "z", "type": "quantitative", "scale": {"domain": [0, 2000], "nice": false, "zero": false},
              "axis": {"orient": "left", "values": [0,100,200,300,400,500,600,700,800,900,1000,1100,1200,1300,1400,1500,1600,1700,1800,1900], "format": "d", "labelExpr": "datum.value % 300 === 0 ? datum.label : ''", "tickSize": {"condition": {"test": "datum.value % 300 === 0", "value": 8}, "value": 5}, "labelFontSize": 13, "labelPadding": 3, "domainWidth": 1.5, "title": null, "zindex": 1}},
            "order": {"field": "z", "type": "quantitative"},
            "color": {"field": "src", "type": "nominal", "scale": {"domain": ["Radiosonde", "ERA-Interim", "GFS"], "range": ["#111111", "#2458b0", "#ec2a2a"]},
              "legend": {"orient": "none", "legendX": 249, "legendY": 11, "title": null, "symbolType": "stroke", "symbolSize": 144, "symbolStrokeWidth": 1.6, "labelFontSize": 12, "labelFont": "Liberation Sans", "labelColor": "#000", "rowPadding": 3, "labelOffset": 4, "padding": 0}}
          }
        },
        {
          "data": {"name": "profiles"},
          "mark": {"type": "point", "opacity": 0},
          "encoding": {
            "x": {"field": "ws", "type": "quantitative", "scale": {"domain": [0, 15], "range": [0, 342], "nice": false, "zero": false},
              "axis": {"orient": "top", "values": [0,1,2,3,4,5,6,7,8,9,10,11,12,13,14,15], "labels": false, "tickSize": {"condition": {"test": "datum.value % 3 === 0", "value": 8}, "value": 5}, "domainWidth": 1.5, "title": null, "zindex": 1}},
            "y": {"field": "z", "type": "quantitative", "scale": {"domain": [0, 2000], "nice": false, "zero": false},
              "axis": {"orient": "right", "offset": -66, "values": [0,100,200,300,400,500,600,700,800,900,1000,1100,1200,1300,1400,1500,1600,1700,1800,1900], "labels": false, "tickSize": {"condition": {"test": "datum.value % 300 === 0", "value": 8}, "value": 5}, "domainWidth": 1.5, "title": null, "zindex": 1}}
          }
        },
        {
          "data": {"values": [{}]},
          "mark": {"type": "text", "text": "(a)", "align": "left", "baseline": "middle", "fontSize": 15, "font": "Liberation Sans", "color": "#000"},
          "encoding": {
            "x": {"datum": -2.28, "type": "quantitative", "scale": {"domain": [0, 15], "range": [0, 342], "nice": false, "zero": false}, "axis": null},
            "y": {"datum": 2028, "type": "quantitative", "scale": {"domain": [0, 2000], "nice": false, "zero": false}, "axis": null}
          }
        }
      ],
      "resolve": {"axis": {"x": "independent", "y": "independent"}}
    },
    {
      "width": 341,
      "height": 363,
      "layer": [
        {
          "data": {"name": "cells"},
          "mark": {"type": "point", "shape": "M-1.06,-0.56H1.06V0.56H-1.06Z", "size": 225, "filled": true, "opacity": 1, "strokeWidth": 0},
          "encoding": {
            "x": {"field": "t", "type": "quantitative", "scale": {"domain": [0, 23], "nice": false, "zero": false},
              "axis": {"orient": "bottom", "offset": -112, "values": [0,1,2,3,4,5,6,7,8,9,10,11,12,13,14,15,16,17,18,19,20,21,22,23], "labels": false, "tickSize": {"condition": {"test": "datum.value % 4 === 0", "value": 6}, "value": 3.5}, "domainWidth": 1.8, "title": null, "zindex": 1}},
            "y": {"field": "h", "type": "quantitative", "scale": {"domain": [0.075, 2.0], "range": [251, 7], "nice": false, "zero": false},
              "axis": {"orient": "left", "values": [0.1,0.2,0.3,0.4,0.5,0.6,0.7,0.8,0.9,1.0,1.1,1.2,1.3,1.4,1.5,1.6,1.7,1.8,1.9,2.0], "labelExpr": "round(datum.value * 10) % 3 === 0 ? format(datum.value, '.1f') : ''", "tickSize": {"condition": {"test": "round(datum.value * 10) % 3 === 0", "value": 6}, "value": 3.5}, "labelFontSize": 12, "labelPadding": 13, "domainWidth": 1.8, "title": "Height (km)", "titleFontSize": 17, "titlePadding": 6, "zindex": 1}},
            "color": {"field": "v", "type": "quantitative", "scale": {"type": "threshold", "domain": [10, 11, 12, 13, 14, 15, 16, 17, 18, 19, 20], "range": ["#3a7dc2", "#2ec3ef", "#5cc4bf", "#6cc28f", "#9bcb5b", "#d5de26", "#fdd023", "#f7931e", "#f15a29", "#ed3125", "#bf1e2d", "#7b1416"]}, "legend": null}
          }
        },
        {
          "data": {"values": [{}]},
          "mark": {"type": "text", "text": "wind speed", "align": "left", "baseline": "middle", "fontSize": 13, "font": "Liberation Sans", "color": "#000"},
          "encoding": {
            "x": {"datum": 0, "type": "quantitative", "scale": {"domain": [0, 23], "nice": false, "zero": false},
              "axis": {"orient": "top", "offset": -7, "values": [0,1,2,3,4,5,6,7,8,9,10,11,12,13,14,15,16,17,18,19,20,21,22,23], "labels": false, "tickSize": {"condition": {"test": "datum.value % 4 === 0", "value": 6}, "value": 3.5}, "domainWidth": 1.8, "title": null, "zindex": 1}},
            "y": {"datum": 2.122, "type": "quantitative", "scale": {"domain": [0.075, 2.0], "range": [251, 7], "nice": false, "zero": false},
              "axis": {"orient": "right", "values": [0.1,0.2,0.3,0.4,0.5,0.6,0.7,0.8,0.9,1.0,1.1,1.2,1.3,1.4,1.5,1.6,1.7,1.8,1.9,2.0], "labels": false, "tickSize": {"condition": {"test": "round(datum.value * 10) % 3 === 0", "value": 6}, "value": 3.5}, "domainWidth": 1.8, "title": null, "zindex": 1}}
          }
        },
        {
          "data": {"values": [{}]},
          "mark": {"type": "text", "text": "m s⁻¹", "align": "right", "baseline": "middle", "fontSize": 13, "font": "Liberation Sans", "color": "#000"},
          "encoding": {
            "x": {"datum": 23.45, "type": "quantitative", "scale": {"domain": [0, 23], "nice": false, "zero": false}, "axis": null},
            "y": {"datum": 2.118, "type": "quantitative", "scale": {"domain": [0.075, 2.0], "range": [251, 7], "nice": false, "zero": false}, "axis": null}
          }
        },
        {
          "data": {"values": [{}]},
          "mark": {"type": "text", "text": "(b)", "align": "left", "baseline": "middle", "fontSize": 15, "font": "Liberation Sans", "color": "#000"},
          "encoding": {
            "x": {"datum": -4.59, "type": "quantitative", "scale": {"domain": [0, 23], "nice": false, "zero": false}, "axis": null},
            "y": {"datum": 2.091, "type": "quantitative", "scale": {"domain": [0.075, 2.0], "range": [251, 7], "nice": false, "zero": false}, "axis": null}
          }
        },
        {
          "data": {"name": "obs"},
          "mark": {"type": "line", "color": "#111111", "strokeWidth": 1.1},
          "encoding": {
            "x": {"field": "t", "type": "quantitative", "scale": {"domain": [0, 23], "nice": false, "zero": false},
              "axis": {"orient": "bottom", "values": [0,1,2,3,4,5,6,7,8,9,10,11,12,13,14,15,16,17,18,19,20,21,22,23], "format": "d", "labelExpr": "datum.value % 4 === 0 ? datum.label : ''", "tickSize": {"condition": {"test": "datum.value % 4 === 0", "value": 4.5}, "value": 2.5}, "labelFontSize": 10, "labelPadding": 6, "domainWidth": 1.2, "title": "Time (UTC)", "titleFontSize": 16, "titlePadding": 5, "zindex": 1}},
            "y": {"field": "ws", "type": "quantitative", "scale": {"domain": [0, 10], "range": [363, 276], "nice": false, "zero": false},
              "axis": {"orient": "left", "values": [0,0.5,1,1.5,2,2.5,3,3.5,4,4.5,5,5.5,6,6.5,7,7.5,8,8.5,9,9.5,10], "format": "d", "labelExpr": "datum.value % 2 === 0 ? datum.label : ''", "tickSize": {"condition": {"test": "datum.value % 2 === 0", "value": 4.5}, "value": 2.5}, "labelFontSize": 10, "labelPadding": 4, "domainWidth": 1.2, "title": "windspeed", "titleFont": "Liberation Sans", "titleFontSize": 13, "titlePadding": 8, "zindex": 1}}
          }
        },
        {
          "data": {"name": "smooth"},
          "mark": {"type": "line", "color": "#e8262a", "strokeWidth": 2, "interpolate": "monotone"},
          "encoding": {
            "x": {"field": "t", "type": "quantitative", "scale": {"domain": [0, 23], "nice": false, "zero": false},
              "axis": {"orient": "top", "offset": -276, "values": [0,1,2,3,4,5,6,7,8,9,10,11,12,13,14,15,16,17,18,19,20,21,22,23], "labels": false, "tickSize": {"condition": {"test": "datum.value % 4 === 0", "value": 4.5}, "value": 2.5}, "domainWidth": 1.2, "title": null, "zindex": 1}},
            "y": {"field": "ws", "type": "quantitative", "scale": {"domain": [0, 10], "range": [363, 276], "nice": false, "zero": false},
              "axis": {"orient": "right", "values": [0,0.5,1,1.5,2,2.5,3,3.5,4,4.5,5,5.5,6,6.5,7,7.5,8,8.5,9,9.5,10], "labels": false, "tickSize": {"condition": {"test": "datum.value % 2 === 0", "value": 4.5}, "value": 2.5}, "domainWidth": 1.2, "title": null, "zindex": 1}}
          }
        },
        {
          "data": {"values": [{}]},
          "mark": {"type": "text", "text": "(c)", "align": "left", "baseline": "middle", "fontSize": 15, "font": "Liberation Sans", "color": "#000"},
          "encoding": {
            "x": {"datum": -3.37, "type": "quantitative", "scale": {"domain": [0, 23], "nice": false, "zero": false}, "axis": null},
            "y": {"datum": 10.06, "type": "quantitative", "scale": {"domain": [0, 10], "range": [363, 276], "nice": false, "zero": false}, "axis": null}
          }
        }
      ],
      "resolve": {"scale": {"y": "independent"}, "axis": {"x": "independent", "y": "independent"}}
    },
    {
      "width": 20,
      "height": 248,
      "data": {"name": "classes"},
      "mark": {"type": "rect", "stroke": "#222222", "strokeWidth": 1.2},
      "encoding": {
        "y": {"field": "lo", "type": "quantitative", "scale": {"domain": [9, 21], "range": [247.3, 9.7], "nice": false, "zero": false},
          "axis": {"orient": "right", "values": [10,11,12,13,14,15,16,17,18,19,20], "tickSize": 0, "domain": false, "labelFontSize": 13, "labelPadding": 6, "title": null, "zindex": 1}},
        "y2": {"field": "hi"},
        "color": {"field": "v", "type": "quantitative", "scale": {"type": "threshold", "domain": [10, 11, 12, 13, 14, 15, 16, 17, 18, 19, 20], "range": ["#3a7dc2", "#2ec3ef", "#5cc4bf", "#6cc28f", "#9bcb5b", "#d5de26", "#fdd023", "#f7931e", "#f15a29", "#ed3125", "#bf1e2d", "#7b1416"]}, "legend": null}
      }
    }
  ]
}
